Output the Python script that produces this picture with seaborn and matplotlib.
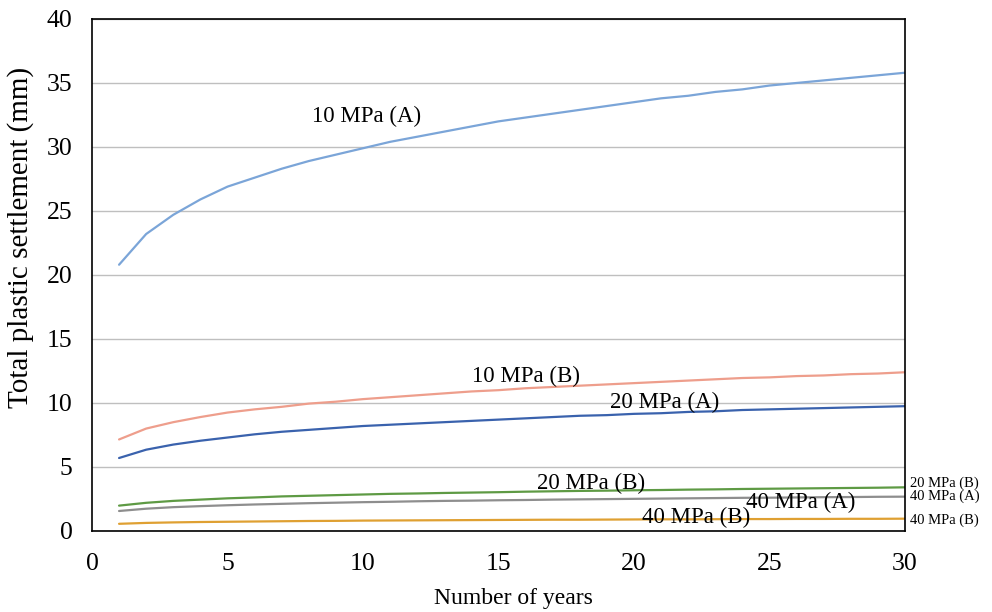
import numpy as np
import pandas as pd
import matplotlib
matplotlib.use("Agg")
import matplotlib.pyplot as plt
import seaborn as sns

years = list(range(1, 31))

settle_10a = [20.8, 23.2, 24.7, 25.9, 26.9, 27.6, 28.3, 28.9, 29.4, 29.9,
              30.4, 30.8, 31.2, 31.6, 32.0, 32.3, 32.6, 32.9, 33.2, 33.5,
              33.8, 34.0, 34.3, 34.5, 34.8, 35.0, 35.2, 35.4, 35.6, 35.8]
settle_10b = [7.15, 8.0, 8.5, 8.9, 9.25, 9.5, 9.7, 9.95, 10.1, 10.3,
              10.45, 10.6, 10.75, 10.9, 11.0, 11.15, 11.25, 11.35, 11.45, 11.55,
              11.65, 11.75, 11.85, 11.95, 12.0, 12.1, 12.15, 12.25, 12.3, 12.4]
settle_20a = [5.7, 6.35, 6.75, 7.05, 7.3, 7.55, 7.75, 7.9, 8.05, 8.2,
              8.3, 8.4, 8.5, 8.6, 8.7, 8.8, 8.9, 9.0, 9.05, 9.15,
              9.2, 9.3, 9.35, 9.45, 9.5, 9.55, 9.6, 9.65, 9.7, 9.75]
settle_20b = [1.98, 2.2, 2.35, 2.45, 2.55, 2.62, 2.7, 2.75, 2.8, 2.85,
              2.9, 2.93, 2.97, 3.0, 3.03, 3.07, 3.1, 3.13, 3.15, 3.18,
              3.2, 3.23, 3.25, 3.28, 3.3, 3.32, 3.34, 3.36, 3.38, 3.41]
settle_40a = [1.56, 1.74, 1.86, 1.94, 2.01, 2.07, 2.12, 2.17, 2.21, 2.25,
              2.28, 2.32, 2.35, 2.37, 2.4, 2.42, 2.45, 2.47, 2.49, 2.51,
              2.53, 2.55, 2.57, 2.59, 2.6, 2.62, 2.64, 2.65, 2.67, 2.68]
settle_40b = [0.56, 0.63, 0.67, 0.7, 0.72, 0.74, 0.76, 0.78, 0.79, 0.81,
              0.82, 0.83, 0.84, 0.85, 0.86, 0.87, 0.88, 0.88, 0.89, 0.9,
              0.91, 0.91, 0.92, 0.93, 0.93, 0.94, 0.94, 0.95, 0.95, 0.96]

series_names = ["10 MPa (A)", "10 MPa (B)", "20 MPa (A)",
                "20 MPa (B)", "40 MPa (A)", "40 MPa (B)"]
series_values = [settle_10a, settle_10b, settle_20a,
                 settle_20b, settle_40a, settle_40b]
colors = ["#7BA5D8", "#EE9E8C", "#3A62AD", "#5E9A44", "#8E8E8E", "#DFA032"]

df = pd.DataFrame({
    "year": years * len(series_names),
    "settlement": [v for vals in series_values for v in vals],
    "series": [n for n in series_names for _ in years],
})

sns.set_theme(style="white")
plt.rcParams["font.family"] = ["Liberation Serif", "DejaVu Serif"]
plt.rcParams["text.color"] = "black"
plt.rcParams["axes.labelcolor"] = "black"

fig = plt.figure(figsize=(9.92, 6.12), dpi=100)
ax = fig.add_axes([0.0927, 0.1324, 0.8196, 0.8366])

sns.lineplot(data=df, x="year", y="settlement", hue="series",
             palette=dict(zip(series_names, colors)), linewidth=1.6,
             legend=False, ax=ax)

ax.set_xlim(0, 30)
ax.set_ylim(0, 40)
ax.set_xticks(range(0, 31, 5))
ax.set_yticks(range(0, 41, 5))
ax.yaxis.grid(True, color="#BFBFBF", linewidth=1.0)
ax.xaxis.grid(False)
ax.set_axisbelow(True)
for s in ax.spines.values():
    s.set_color("black")
    s.set_linewidth(1.2)
ax.tick_params(axis="both", direction="in", length=5, width=1,
               color="#7F7F7F", labelsize=18.5, labelcolor="black")
ax.tick_params(axis="x", pad=16)
ax.tick_params(axis="y", pad=14)

ax.set_xlabel("Number of years", fontsize=17, color="black")
ax.xaxis.label.set_va("center")
ax.xaxis.set_label_coords(0.519, -0.131)
ax.set_ylabel("Total plastic settlement (mm)", fontsize=21, color="black")
ax.yaxis.label.set_va("center")
ax.yaxis.set_label_coords(-0.0876, 0.574)

# in-plot series labels
inline = [("10 MPa (A)", 10.12, 32.37), ("10 MPa (B)", 16.02, 12.11),
          ("20 MPa (A)", 21.13, 10.05), ("20 MPa (B)", 18.4, 3.73),
          ("40 MPa (A)", 26.15, 2.23), ("40 MPa (B)", 22.31, 1.07)]
for txt, x, y in inline:
    ax.text(x, y, txt, fontsize=16.5, ha="center", va="center", color="black")

# labels at the right end of the lines
for txt, y in [("20 MPa (B)", 3.73), ("40 MPa (A)", 2.73), ("40 MPa (B)", 0.86)]:
    ax.text(30.18, y, txt, fontsize=10.5, ha="left", va="center",
            color="black", clip_on=False)

fig.savefig("out.png", dpi=100)
